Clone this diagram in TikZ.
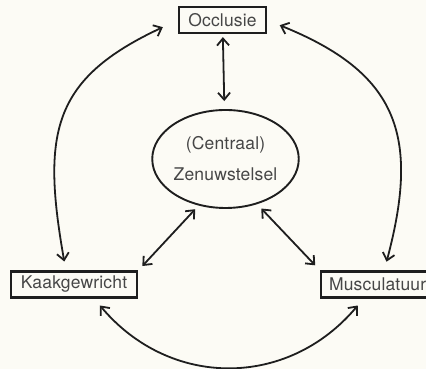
\documentclass[tikz,border=0pt]{standalone}
\usepackage{fontspec}
\setmainfont{TeX Gyre Heros}[LetterSpace=1]
\usetikzlibrary{arrows.meta,shapes.geometric}

\definecolor{inkt}{RGB}{30,30,30}
\definecolor{letter}{RGB}{70,70,70}
\definecolor{papier}{RGB}{252,251,245}

\tikzset{
	blok/.style={draw=inkt, line width=2.2pt, rectangle, text=letter, minimum height=26pt, inner xsep=9pt, inner ysep=0pt, font=\fontsize{17.5}{21}\selectfont},
	kern/.style={draw=inkt, line width=1.9pt, ellipse, minimum width=143pt, minimum height=98pt, inner sep=0pt, text=letter, align=center, font=\fontsize{17.5}{31}\selectfont},
	pijl/.style={draw=inkt, line width=1.8pt, {Straight Barb[length=7pt,width=12pt]}-{Straight Barb[length=7pt,width=12pt]}},
}

\begin{document}
\begin{tikzpicture}[x=1pt,y=1pt]
	\fill[papier] (0,0) rectangle (426,369);
	\useasboundingbox (0,0) rectangle (426,369);
	\node[blok] (occ) at (222.5,349) {Occlusie};
	\node[kern] (zen) at (225.5,210) {(Centraal)\\Zenuwstelsel};
	\node[blok, inner xsep=10pt] (kaak) at (74,84.5) {Kaakgewricht};
	\node[blok, anchor=west, inner xsep=8pt] (mus) at (320,84.5) {Musculatuur};
	
	% occlusie
	\draw[pijl, shorten <=3pt, shorten >=8pt](occ) -- (zen);
	\draw[pijl, shorten <=17pt, shorten >=9pt](occ.west) to [out=205,in=100,looseness=1.3](kaak.120);
	\draw[pijl, shorten <=14pt, shorten >=9pt](occ.east) to [out=338,in=75,looseness=1.3](mus.65);
	% zenuwstelsel
	\draw[pijl, shorten <=5pt, shorten >=6pt](zen.240) -- (kaak.north east);
	\draw[pijl, shorten <=6pt, shorten >=7pt](zen.305) -- (mus.north west);
	% kaakgewricht
	\draw[pijl, shorten <=9pt, shorten >=9pt](kaak.325) to [out=310,in=230,looseness=1.12](mus.225);
\end{tikzpicture}
\end{document}
